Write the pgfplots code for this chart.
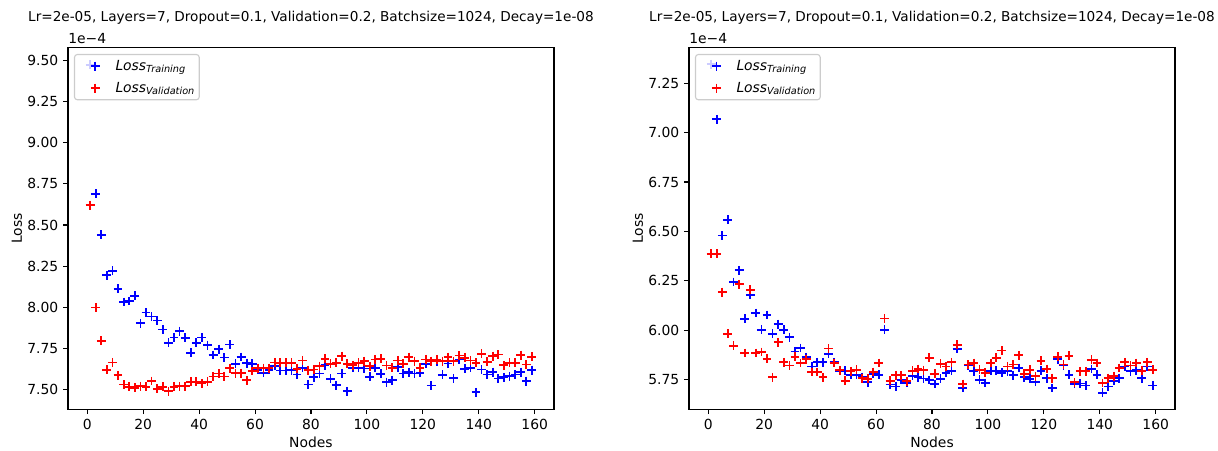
\documentclass[border=0pt]{standalone}
\usepackage{fontspec}
\setmainfont{DejaVu Sans}
\usepackage{pgfplots}
\usepackage{pgfplotstable}
\pgfplotsset{compat=1.18}

\pgfplotstableread{
x y
1 9.473
3 8.690
5 8.440
7 8.194
9 8.222
11 8.113
13 8.032
15 8.038
17 8.069
19 7.903
21 7.968
23 7.944
25 7.919
27 7.865
29 7.784
31 7.817
33 7.855
35 7.815
37 7.724
39 7.784
41 7.817
43 7.770
45 7.710
47 7.746
49 7.695
51 7.774
53 7.657
55 7.698
57 7.661
59 7.657
61 7.621
63 7.601
65 7.620
67 7.645
69 7.616
71 7.616
73 7.618
75 7.591
77 7.632
79 7.530
81 7.575
83 7.598
85 7.648
87 7.565
89 7.526
91 7.598
93 7.490
95 7.632
97 7.632
99 7.628
101 7.577
103 7.632
105 7.596
107 7.545
109 7.557
111 7.636
113 7.598
115 7.606
117 7.598
119 7.602
121 7.657
123 7.524
125 7.673
127 7.589
129 7.659
131 7.569
133 7.683
135 7.626
137 7.632
139 7.484
141 7.622
143 7.591
145 7.606
147 7.567
149 7.575
151 7.581
153 7.591
155 7.606
157 7.551
159 7.618
}\LeftTrain

\pgfplotstableread{
x y
1 8.621
3 7.998
5 7.796
7 7.621
9 7.665
11 7.587
13 7.530
15 7.516
17 7.510
19 7.520
21 7.516
23 7.552
25 7.504
27 7.516
29 7.490
31 7.516
33 7.520
35 7.520
37 7.548
39 7.548
41 7.538
43 7.548
45 7.580
47 7.597
49 7.580
51 7.629
53 7.600
55 7.600
57 7.556
59 7.613
61 7.630
63 7.630
65 7.630
67 7.665
69 7.663
71 7.663
73 7.663
75 7.626
77 7.677
79 7.618
81 7.622
83 7.642
85 7.687
87 7.657
89 7.663
91 7.703
93 7.657
95 7.648
97 7.663
99 7.673
101 7.642
103 7.683
105 7.687
107 7.646
109 7.632
111 7.677
113 7.657
115 7.697
117 7.673
119 7.632
121 7.683
123 7.673
125 7.683
127 7.673
129 7.697
131 7.673
133 7.707
135 7.693
137 7.677
139 7.663
141 7.717
143 7.669
145 7.703
147 7.713
149 7.648
151 7.663
153 7.663
155 7.709
157 7.652
159 7.699
}\LeftVal

\pgfplotstableread{
x y
1 7.346
3 7.067
5 6.479
7 6.559
9 6.244
11 6.303
13 6.058
15 6.178
17 6.087
19 6.003
21 6.077
23 5.982
25 6.031
27 6.003
29 5.964
31 5.893
33 5.910
35 5.863
37 5.817
39 5.838
41 5.838
43 5.880
45 5.838
47 5.795
49 5.795
51 5.775
53 5.775
55 5.763
57 5.737
59 5.780
61 5.775
63 6.003
65 5.725
67 5.716
69 5.750
71 5.733
73 5.770
75 5.762
77 5.756
79 5.748
81 5.728
83 5.755
85 5.784
87 5.795
89 5.905
91 5.708
93 5.821
95 5.792
97 5.750
99 5.733
101 5.795
103 5.795
105 5.784
107 5.792
109 5.772
111 5.809
113 5.763
115 5.755
117 5.738
119 5.795
121 5.758
123 5.708
125 5.854
127 5.822
129 5.775
131 5.728
133 5.730
135 5.720
137 5.804
139 5.775
141 5.683
143 5.716
145 5.745
147 5.758
149 5.817
151 5.792
153 5.797
155 5.758
157 5.817
159 5.721
}\RightTrain

\pgfplotstableread{
x y
1 6.387
3 6.387
5 6.193
7 5.982
9 5.922
11 6.232
13 5.885
15 6.205
17 5.885
19 5.890
21 5.856
23 5.762
25 5.939
27 5.838
29 5.821
31 5.865
33 5.834
35 5.854
37 5.789
39 5.789
41 5.762
43 5.907
45 5.834
47 5.797
49 5.745
51 5.792
53 5.800
55 5.758
57 5.755
59 5.789
61 5.834
63 6.060
65 5.745
67 5.772
69 5.772
71 5.742
73 5.795
75 5.804
77 5.798
79 5.860
81 5.780
83 5.831
85 5.817
87 5.838
89 5.927
91 5.728
93 5.826
95 5.834
97 5.800
99 5.784
101 5.834
103 5.860
105 5.897
107 5.817
109 5.826
111 5.873
113 5.780
115 5.800
117 5.767
119 5.846
121 5.804
123 5.758
125 5.865
127 5.826
129 5.871
131 5.737
133 5.792
135 5.792
137 5.851
139 5.834
141 5.733
143 5.758
145 5.767
147 5.809
149 5.838
151 5.821
153 5.834
155 5.795
157 5.838
159 5.800
}\RightVal

\pgfplotsset{
  lossaxis/.style={
    scale only axis,
    width=349.9pt, height=260.35pt,
    xmin=-6.9, xmax=166.9,
    xtick={0,20,40,60,80,100,120,140,160},
    clip mode=individual,
    tick align=outside,
    xtick pos=bottom, ytick pos=left,
    major tick length=3.5pt,
    every tick/.style={black, line width=0.8pt},
    axis line style={line width=0.8pt},
    tick label style={font=\fontsize{10}{12}\selectfont},
    /pgf/number format/assume math mode=true,
    y tick label style={/pgf/number format/.cd, fixed, fixed zerofill, precision=2, /tikz/.cd},
    x tick label style={/pgf/number format/.cd, fixed, precision=0, /tikz/.cd},
    xlabel={Nodes}, ylabel={Loss},
    xlabel style={font=\fontsize{10}{12}\selectfont, at={(axis description cs:0.5,-0.0924)}, anchor=center},
    ylabel style={font=\fontsize{10}{12}\selectfont, at={(axis description cs:-0.105,0.5)}, anchor=center},
    title={Lr=2e-05, Layers=7, Dropout=0.1, Validation=0.2, Batchsize=1024, Decay=1e-08},
    title style={font=\fontsize{9.8}{12}\selectfont, at={(axis description cs:0.5,1)}, anchor=center, yshift=15.8pt},
    legend cell align=left,
    legend image code/.code={%
      \path[draw=none,fill=none] (0pt,-3pt) rectangle (24.5pt,3pt);
      \draw[#1] plot coordinates {(14pt,0pt)};},
    legend style={at={(axis description cs:0,1)}, anchor=north west, xshift=4.3pt, yshift=-4.5pt,
      draw=black!20, line width=0.8pt, rounded corners=2pt, fill=white, fill opacity=0.8, text opacity=1,
      inner xsep=1pt, inner ysep=2pt, nodes={inner sep=2pt}, column sep=2pt, row sep=3pt,
      font=\fontsize{10}{12}\selectfont},
  },
  trainstyle/.style={only marks, mark=+, draw=blue, color=blue, mark size=3.2pt, mark options={line width=1.25pt, draw=blue}},
  valstyle/.style={only marks, mark=+, draw=red, color=red, mark size=3.2pt, mark options={line width=1.25pt, draw=red}},
}

\begin{document}
\begin{tikzpicture}
\path[use as bounding box] (0pt,0pt) rectangle (876.96pt,-324pt);
\begin{axis}[lossaxis, at={(48.96pt,-294.7pt)}, anchor=south west,
  ymin=7.38, ymax=9.577,
  ytick={7.5,7.75,8,8.25,8.5,8.75,9,9.25,9.5}]
\addplot[trainstyle] table[x=x,y=y] {\LeftTrain};
\addlegendentry{\textit{Loss}\textsubscript{\textit{Training}}}
\addplot[valstyle] table[x=x,y=y] {\LeftVal};
\addlegendentry{\textit{Loss}\textsubscript{\textit{Validation}}}
\node[anchor=south west, inner sep=0pt, yshift=2.5pt, font=\fontsize{10}{12}\selectfont] at (rel axis cs:0,1) {1e−4};
\end{axis}
\begin{axis}[lossaxis, at={(496.08pt,-294.7pt)}, anchor=south west,
  ymin=5.60, ymax=7.429,
  ytick={5.75,6,6.25,6.5,6.75,7,7.25}]
\addplot[trainstyle] table[x=x,y=y] {\RightTrain};
\addlegendentry{\textit{Loss}\textsubscript{\textit{Training}}}
\addplot[valstyle] table[x=x,y=y] {\RightVal};
\addlegendentry{\textit{Loss}\textsubscript{\textit{Validation}}}
\node[anchor=south west, inner sep=0pt, yshift=2.5pt, font=\fontsize{10}{12}\selectfont] at (rel axis cs:0,1) {1e−4};
\end{axis}
\end{tikzpicture}
\end{document}
